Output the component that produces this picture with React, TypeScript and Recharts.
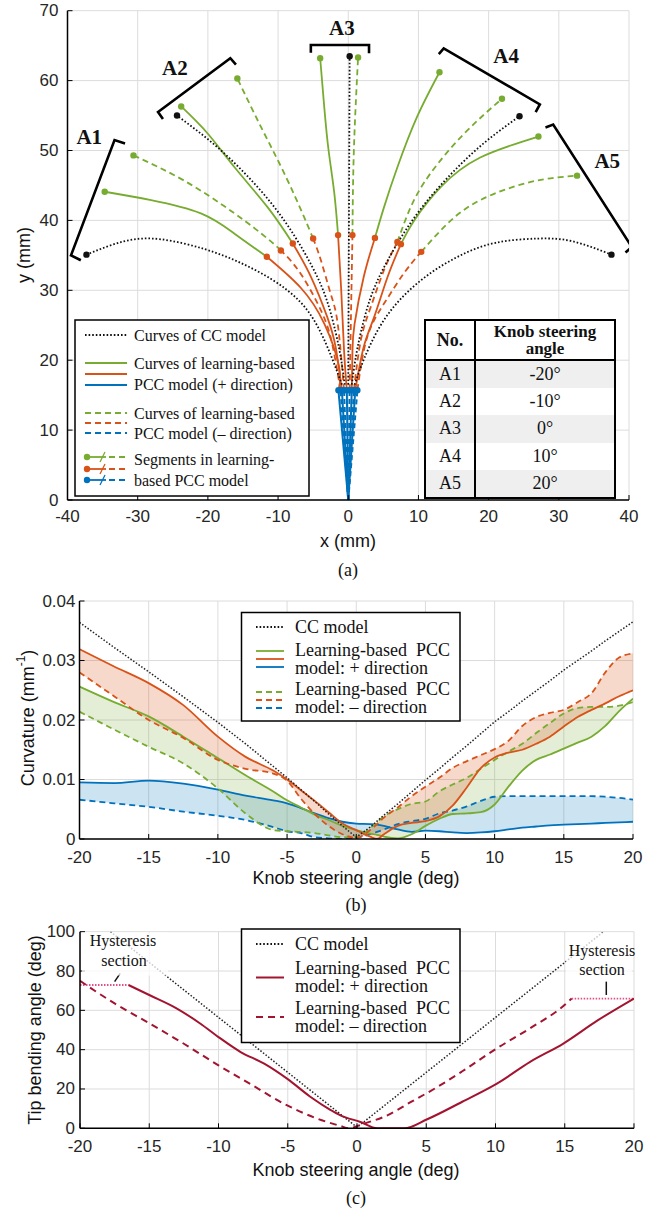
import React from 'react';
import { ComposedChart, Line, Area, XAxis, YAxis, CartesianGrid, ReferenceDot, ReferenceLine } from 'recharts';

const SANS = '"Liberation Sans", Arial, Helvetica, sans-serif';
const SERIF = '"Liberation Serif", "Times New Roman", Times, serif';
const GREEN = '#77ac30';
const ORANGE = '#d95319';
const BLUE = '#0072bd';
const RED = '#a2142f';
const PINK = '#e24f86';
const GRID = '#dcdcdc';
const TICK = '#262626';

type XY = [number, number];

// ---------- Panel (a): shapes in mm ----------
const aXTicks = [-40, -30, -20, -10, 0, 10, 20, 30, 40];
const aYTicks = [0, 10, 20, 30, 40, 50, 60, 70];

const ccA1: XY[] = [[-0.9, 16.5], [-2.4, 20.5], [-4.4, 24.9], [-7, 28.5], [-10.8, 31.5], [-15.5, 34], [-20.5, 35.9], [-26.7, 37.3], [-32, 37], [-37.3, 35.1]];
const ccA2: XY[] = [[-0.5, 16.5], [-1.0, 20], [-1.8, 24], [-3.2, 29], [-5.2, 33.5], [-7.8, 38], [-11, 42.5], [-15, 47], [-19.5, 51.2], [-24.4, 55]];
const ccA3: XY[] = [[0, 16.5], [0.1, 40], [0.2, 63.5]];
const ccA4: XY[] = [[0.5, 16.5], [1.0, 20], [1.8, 24], [3.2, 29], [5.2, 33.5], [7.8, 38], [11, 42.5], [15, 47], [19.5, 51.2], [24.4, 54.9]];
const ccA5: XY[] = [[0.9, 16.5], [2.3, 20.3], [4.5, 24.8], [7.5, 28.8], [11.5, 32.3], [16, 35], [21, 36.8], [27, 37.4], [32, 37], [37.5, 35.1]];

const blueTopY = 15.7;
const blueTipsPlus = [-1.4, -0.9, -0.2, 0.5, 1.0];
const blueTipsMinus = [-1.1, -0.6, 0.2, 0.8, 1.3];

const orA1p: XY[] = [[-1.4, 15.7], [-1.3, 19], [-3.4, 25.2], [-6.8, 30.4], [-11.6, 34.8]];
const orA1m: XY[] = [[-1.1, 15.7], [-2.2, 21.9], [-3.7, 26.7], [-6.8, 32.4], [-9.6, 35.7]];
const orA2p: XY[] = [[-0.9, 15.7], [-1.8, 21.9], [-3.0, 26.2], [-5.3, 31.9], [-7.9, 36.7]];
const orA2m: XY[] = [[-0.6, 15.7], [-1.5, 25.2], [-2.5, 29.5], [-3.9, 34.3], [-5.0, 37.4]];
const orA3p: XY[] = [[-0.2, 15.7], [-0.6, 21.4], [-1.0, 30], [-1.45, 37.9]];
const orA3m: XY[] = [[0.2, 15.7], [0.4, 27], [0.6, 37.9]];
const orA4p: XY[] = [[0.5, 15.7], [0.6, 21.4], [0.9, 25.2], [2.2, 31.9], [3.8, 37.5]];
const orA4m: XY[] = [[0.8, 15.7], [1.8, 22.9], [3.2, 27.6], [5.1, 32.9], [7.0, 36.9]];
const orA5p: XY[] = [[1.0, 15.7], [2.2, 21.9], [3.7, 26.2], [5.6, 31.9], [7.5, 36.6]];
const orA5m: XY[] = [[1.3, 15.7], [2.7, 23.3], [5.1, 28.1], [7.9, 32.4], [10.4, 35.5]];

const grA1p: XY[] = [[-11.6, 34.8], [-16.2, 38.1], [-21, 41], [-28.1, 42.9], [-34.7, 44.1]];
const grA1m: XY[] = [[-9.6, 35.7], [-11.5, 37.4], [-16.2, 41], [-23.4, 45.7], [-30.6, 49.3]];
const grA2p: XY[] = [[-7.9, 36.7], [-11.5, 41.9], [-16.2, 47.6], [-20, 52.4], [-23.8, 56.3]];
const grA2m: XY[] = [[-5.0, 37.4], [-6.3, 40.5], [-9.1, 46.7], [-12.4, 53.3], [-15.8, 60.3]];
const grA3p: XY[] = [[-1.45, 37.9], [-2.0, 44], [-2.8, 50], [-3.4, 56], [-4.0, 63.2]];
const grA3m: XY[] = [[0.6, 37.9], [0.8, 50], [1.4, 63.3]];
const grA4p: XY[] = [[3.8, 37.5], [5.1, 41.9], [7.0, 47.6], [9.8, 54.8], [13.0, 61.2]];
const grA4m: XY[] = [[7.0, 36.9], [8.9, 41.9], [11.7, 46.7], [16.5, 52.4], [21.9, 57.4]];
const grA5p: XY[] = [[7.5, 36.6], [9.4, 40], [13.2, 44.8], [18.8, 49], [27.1, 52.0]];
const grA5m: XY[] = [[10.4, 35.5], [14.1, 39.5], [18.8, 42.9], [26, 45.5], [32.6, 46.4]];

const brA1: XY[] = [[-38.1, 34.3], [-39.5, 35], [-33.3, 51.5], [-31.8, 51.0]];
const brA2: XY[] = [[-26.4, 54.5], [-27.1, 55.5], [-16.8, 63.2], [-16.0, 62.3]];
const brA3: XY[] = [[-5.33, 64.0], [-5.33, 65.1], [2.96, 65.1], [2.96, 63.9]];
const brA4: XY[] = [[12.9, 63.8], [13.6, 64.6], [27.3, 56.6], [26.7, 55.5]];
const brA5: XY[] = [[28.1, 53.3], [29.2, 53.7], [40.4, 36.2], [39.5, 35.4]];
const bracketLabels = ['A1', 'A2', 'A3', 'A4', 'A5'];
const bracketLabelPos: XY[] = [[-36.9, 52], [-24.7, 61.9], [-0.9, 67.6], [22.5, 63.6], [36.9, 48.6]];

const tableNo = ['A1', 'A2', 'A3', 'A4', 'A5'];
const tableAngle = ['-20°', '-10°', '0°', '10°', '20°'];

// ---------- Panel (b): curvature ----------
const bXTicks = [-20, -15, -10, -5, 0, 5, 10, 15, 20];
const bYTicks = [0, 0.01, 0.02, 0.03, 0.04];
const kB = [-20, -17.5, -15, -12.5, -10, -8, -6, -5, -4, -3, -2, -1, 0, 1, 1.5, 2, 3, 4, 5, 6, 7, 8, 9, 10, 11, 12, 13, 14, 15, 16, 17, 18, 19, 20];
const ccB = [0.0364, 0.0322, 0.0281, 0.0239, 0.0196, 0.0160, 0.0122, 0.0103, 0.0083, 0.0063, 0.0042, 0.0022, 0.0003, 0.0020, 0.0030, 0.0040, 0.0059, 0.0079, 0.0099, 0.0118, 0.0138, 0.0157, 0.0177, 0.0197, 0.0214, 0.0232, 0.0249, 0.0266, 0.0284, 0.0300, 0.0316, 0.0333, 0.0349, 0.0365];
const greenPlusB = [0.0256, 0.0230, 0.0206, 0.0172, 0.0136, 0.0107, 0.0080, 0.0065, 0.0053, 0.0041, 0.0032, 0.0022, 0.0015, 0.0009, 0.0007, 0.0004, 0.0001, 0.0008, 0.0022, 0.0034, 0.0042, 0.0043, 0.0045, 0.0058, 0.0088, 0.0115, 0.0133, 0.0142, 0.0152, 0.0162, 0.0172, 0.0190, 0.0215, 0.0236];
const orangePlusB = [0.0319, 0.0290, 0.0262, 0.0225, 0.0172, 0.0138, 0.0115, 0.0100, 0.0082, 0.0064, 0.0045, 0.0026, 0.0015, 0.0004, 0.0000, 0.0008, 0.0022, 0.0027, 0.0030, 0.0038, 0.0057, 0.0087, 0.0119, 0.0137, 0.0145, 0.0150, 0.0160, 0.0172, 0.0189, 0.0205, 0.0217, 0.0228, 0.0240, 0.0250];
const bluePlusB = [0.0095, 0.0094, 0.0098, 0.0093, 0.0083, 0.0073, 0.0065, 0.0060, 0.0052, 0.0043, 0.0035, 0.0029, 0.0026, 0.0025, 0.0024, 0.0022, 0.0016, 0.0012, 0.0014, 0.0013, 0.0011, 0.0010, 0.0011, 0.0013, 0.0016, 0.0019, 0.0021, 0.0023, 0.0024, 0.0025, 0.0026, 0.0027, 0.0028, 0.0029];
const greenMinusB = [0.0214, 0.0184, 0.0155, 0.0127, 0.0085, 0.0043, 0.0015, 0.0013, 0.0012, 0.0010, 0.0006, 0.0003, 0.0004, 0.0018, 0.0028, 0.0038, 0.0050, 0.0059, 0.0063, 0.0080, 0.0092, 0.0103, 0.0118, 0.0133, 0.0147, 0.0160, 0.0178, 0.0195, 0.0211, 0.0220, 0.0222, 0.0222, 0.0224, 0.0230];
const orangeMinusB = [0.0280, 0.0240, 0.0200, 0.0170, 0.0133, 0.0118, 0.0110, 0.0098, 0.0068, 0.0042, 0.0022, 0.0008, 0.0002, 0.0015, 0.0025, 0.0036, 0.0053, 0.0072, 0.0088, 0.0103, 0.0120, 0.0131, 0.0141, 0.0151, 0.0165, 0.0190, 0.0205, 0.0212, 0.0217, 0.0230, 0.0245, 0.0280, 0.0305, 0.0312];
const blueMinusB = [0.0066, 0.0060, 0.0054, 0.0046, 0.0039, 0.0032, 0.0020, 0.0013, 0.0010, 0.0003, 0.0001, 0.0000, 0.0002, 0.0008, 0.0012, 0.0016, 0.0025, 0.0030, 0.0034, 0.0043, 0.0048, 0.0055, 0.0064, 0.0071, 0.0072, 0.0072, 0.0072, 0.0072, 0.0072, 0.0072, 0.0072, 0.0071, 0.0069, 0.0066];

// ---------- Panel (c): tip bending angle ----------
const cXTicks = [-20, -15, -10, -5, 0, 5, 10, 15, 20];
const cYTicks = [0, 20, 40, 60, 80, 100];
const ccC: XY[] = [[-17.8, 100], [0, 0.5], [17.8, 100]];
const plusC: XY[] = [[-16.5, 72.9], [-15, 67.8], [-13, 60.9], [-11.3, 53.2], [-10, 46.4], [-8.4, 38.8], [-6.7, 32.9], [-5, 25], [-3.4, 16.2], [-1.9, 9.3], [-1.2, 6.6], [0.25, 3.2], [1.46, 0], [3.4, 0], [5.07, 4.6], [7.6, 13.5], [10.1, 22.7], [12.5, 33.8], [14.9, 43.1], [17.4, 55], [20, 66]];
const minusC: XY[] = [[-20, 75], [-17.5, 63.5], [-15, 53.4], [-12.5, 43], [-10, 32], [-7.7, 22.5], [-5, 11.5], [-2.9, 5], [-1.2, 1.2], [-0.6, 0], [0.5, 2.4], [1.94, 5.8], [3.9, 13.4], [5.8, 21], [7.6, 29], [10.1, 40.7], [12.5, 50.9], [14.9, 62.2], [15.5, 66]];
const hysLeftC: XY[] = [[-20, 72.9], [-16.5, 72.9]];
const hysRightC: XY[] = [[15.5, 66], [20, 66]];
const hysTickLeft: XY[] = [[-17.5, 74.6], [-17.1, 78.8]];
const hysTickRight: XY[] = [[18.0, 67.8], [18.0, 74.6]];

const toPts = (a: XY[]) => a.map(([x, y]) => ({ x, y }));

function XTick(props: any) {
  const { x, y, payload, off } = props;
  return (
    <g>
      <line x1={x} x2={x} y1={y} y2={y - 5} stroke="#000" strokeWidth={1} />
      <text x={x} y={y + off} textAnchor="middle" fontSize={17} fontFamily={SANS} fill={TICK}>{payload.value}</text>
    </g>
  );
}
function YTick(props: any) {
  const { x, y, payload, off, fmt } = props;
  return (
    <g>
      <line x1={x} x2={x + 5} y1={y} y2={y} stroke="#000" strokeWidth={1} />
      <text x={x - off} y={y} textAnchor="end" dominantBaseline="central" fontSize={17} fontFamily={SANS} fill={TICK}>{fmt ? fmt(payload.value) : payload.value}</text>
    </g>
  );
}

const endDot = (n: number, color: string, r = 3.2) => (p: any) => {
  if (p.index !== n - 1 || p.cx == null) return <g key={`e${p.index}`} />;
  return <circle key={`e${p.index}`} cx={p.cx} cy={p.cy} r={r} fill={color} stroke="none" />;
};

type Seg = { d: XY[]; c: string; dash?: string; dot?: boolean; w?: number };

const segsA: Seg[] = [
  ...blueTipsPlus.map((t) => ({ d: [[0, 0], [t, blueTopY]] as XY[], c: BLUE, dot: true, w: 2 })),
  ...blueTipsMinus.map((t) => ({ d: [[0, 0], [t, blueTopY]] as XY[], c: BLUE, dash: '5 3', dot: true, w: 2 })),
  ...[orA1p, orA2p, orA3p, orA4p, orA5p].map((d) => ({ d, c: ORANGE, dot: true })),
  ...[orA1m, orA2m, orA3m, orA4m, orA5m].map((d) => ({ d, c: ORANGE, dash: '6 4', dot: true })),
  ...[grA1p, grA2p, grA3p, grA4p, grA5p].map((d) => ({ d, c: GREEN, dot: true })),
  ...[grA1m, grA2m, grA3m, grA4m, grA5m].map((d) => ({ d, c: GREEN, dash: '6 4', dot: true })),
  ...[ccA1, ccA2, ccA3, ccA4, ccA5].map((d) => ({ d, c: '#111', dash: '1.6 2', dot: true })),
];
const bracketsA: XY[][] = [brA1, brA2, brA3, brA4, brA5];

const rowsB = kB.map((k, i) => ({
  k,
  cc: ccB[i],
  gp: greenPlusB[i],
  op: orangePlusB[i],
  bp: bluePlusB[i],
  gm: greenMinusB[i],
  om: orangeMinusB[i],
  bm: blueMinusB[i],
}));

const axisLine = { stroke: '#000', strokeWidth: 1.5 };

function PanelA() {
  return (
    <ComposedChart width={657} height={530} margin={{ top: 10.7, right: 28, bottom: 0, left: 0 }}>
      <CartesianGrid stroke={GRID} strokeWidth={1} />
      <XAxis type="number" dataKey="x" domain={[-40, 40]} ticks={aXTicks} interval={0} allowDataOverflow
        axisLine={axisLine} tickLine={false} tickSize={0} tickMargin={0} height={30}
        tick={(p: any) => <XTick {...p} off={22} />} />
      <YAxis type="number" dataKey="y" domain={[0, 70]} ticks={aYTicks} interval={0} allowDataOverflow
        axisLine={axisLine} tickLine={false} tickSize={0} tickMargin={0} width={67.5}
        tick={(p: any) => <YTick {...p} off={9} />} />
      {segsA.map((s, i) => (
        <Line key={`s${i}`} data={toPts(s.d)} dataKey="y" type="natural" stroke={s.c} strokeWidth={s.w ?? 1.8}
          strokeDasharray={s.dash} dot={s.dot ? endDot(s.d.length, s.c) : false} activeDot={false}
          isAnimationActive={false} />
      ))}
      {bracketsA.map((b, i) => (
        <Line key={`b${i}`} data={toPts(b)} dataKey="y" type="linear" stroke="#000" strokeWidth={2.6}
          strokeLinejoin="miter" dot={false} activeDot={false} isAnimationActive={false} />
      ))}
      {bracketLabels.map((t, i) => (
        <ReferenceDot key={t} x={bracketLabelPos[i][0]} y={bracketLabelPos[i][1]} r={0} fill="none" stroke="none"
          ifOverflow="visible"
          label={{ value: t, position: 'center', fill: '#111', fontSize: 21, fontWeight: 700, fontFamily: SERIF }} />
      ))}
    </ComposedChart>
  );
}

function PanelB() {
  return (
    <ComposedChart width={657} height={279} data={rowsB} margin={{ top: 11, right: 24, bottom: 0, left: 0 }}>
      <CartesianGrid stroke={GRID} strokeWidth={1} />
      <XAxis type="number" dataKey="k" domain={[-20, 20]} ticks={bXTicks} interval={0} allowDataOverflow
        axisLine={axisLine} tickLine={false} tickSize={0} tickMargin={0} height={30}
        tick={(p: any) => <XTick {...p} off={23.5} />} />
      <YAxis type="number" domain={[0, 0.04]} ticks={bYTicks} interval={0} allowDataOverflow
        axisLine={axisLine} tickLine={false} tickSize={0} tickMargin={0} width={79.5}
        tick={(p: any) => <YTick {...p} off={4} fmt={(v: number) => (v === 0 ? '0' : v.toFixed(2))} />} />
      <Area dataKey={(d: any) => [d.bp, d.bm]} type="monotone" fill={BLUE} fillOpacity={0.2} stroke="none" isAnimationActive={false} activeDot={false} />
      <Area dataKey={(d: any) => [d.gp, d.gm]} type="monotone" fill={GREEN} fillOpacity={0.2} stroke="none" isAnimationActive={false} activeDot={false} />
      <Area dataKey={(d: any) => [d.op, d.om]} type="monotone" fill={ORANGE} fillOpacity={0.22} stroke="none" isAnimationActive={false} activeDot={false} />
      <Line dataKey="bm" type="monotone" stroke={BLUE} strokeWidth={1.8} strokeDasharray="6 4" dot={false} activeDot={false} isAnimationActive={false} />
      <Line dataKey="bp" type="monotone" stroke={BLUE} strokeWidth={1.8} dot={false} activeDot={false} isAnimationActive={false} />
      <Line dataKey="gm" type="monotone" stroke={GREEN} strokeWidth={1.8} strokeDasharray="6 4" dot={false} activeDot={false} isAnimationActive={false} />
      <Line dataKey="gp" type="monotone" stroke={GREEN} strokeWidth={1.8} dot={false} activeDot={false} isAnimationActive={false} />
      <Line dataKey="om" type="monotone" stroke={ORANGE} strokeWidth={1.8} strokeDasharray="6 4" dot={false} activeDot={false} isAnimationActive={false} />
      <Line dataKey="op" type="monotone" stroke={ORANGE} strokeWidth={1.8} dot={false} activeDot={false} isAnimationActive={false} />
      <Line dataKey="cc" type="linear" stroke="#222" strokeWidth={1.5} strokeDasharray="1.5 1.8" dot={false} activeDot={false} isAnimationActive={false} />
    </ComposedChart>
  );
}

function PanelC() {
  return (
    <ComposedChart width={657} height={238.3} margin={{ top: 11.7, right: 23, bottom: 0, left: 0 }}>
      <CartesianGrid stroke={GRID} strokeWidth={1} />
      <XAxis type="number" dataKey="x" domain={[-20, 20]} ticks={cXTicks} interval={0} allowDataOverflow
        axisLine={axisLine} tickLine={false} tickSize={0} tickMargin={0} height={30}
        tick={(p: any) => <XTick {...p} off={24} />} />
      <YAxis type="number" dataKey="y" domain={[0, 100]} ticks={cYTicks} interval={0} allowDataOverflow
        axisLine={axisLine} tickLine={false} tickSize={0} tickMargin={0} width={80}
        tick={(p: any) => <YTick {...p} off={5} />} />
      <Line data={toPts(ccC)} dataKey="y" type="linear" stroke="#222" strokeWidth={1.5} strokeDasharray="1.5 1.8" dot={false} activeDot={false} isAnimationActive={false} />
      <Line data={toPts(hysLeftC)} dataKey="y" type="linear" stroke={PINK} strokeWidth={1.8} strokeDasharray="1.5 1.5" dot={false} activeDot={false} isAnimationActive={false} />
      <Line data={toPts(hysRightC)} dataKey="y" type="linear" stroke={PINK} strokeWidth={1.8} strokeDasharray="1.5 1.5" dot={false} activeDot={false} isAnimationActive={false} />
      <Line data={toPts(minusC)} dataKey="y" type="monotone" stroke={RED} strokeWidth={2} strokeDasharray="7 5" dot={false} activeDot={false} isAnimationActive={false} />
      <Line data={toPts(plusC)} dataKey="y" type="monotone" stroke={RED} strokeWidth={2} dot={false} activeDot={false} isAnimationActive={false} />
      <ReferenceLine segment={toPts(hysTickLeft)} stroke="#111" strokeWidth={1.5} ifOverflow="visible" />
      <ReferenceLine segment={toPts(hysTickRight)} stroke="#111" strokeWidth={1.5} ifOverflow="visible" />
    </ComposedChart>
  );
}

const txt = (x: number, y: number, s: string, size: number, fam: string, extra: any = {}) => (
  <text x={x} y={y} fontSize={size} fontFamily={fam} fill="#111" dominantBaseline="central" {...extra}>{s}</text>
);

function Overlay() {
  const legLine = (x1: number, x2: number, y: number, c: string, dash?: string, w = 1.8) => (
    <line x1={x1} x2={x2} y1={y} y2={y} stroke={c} strokeWidth={w} strokeDasharray={dash} />
  );
  const segMarker = (y: number, c: string) => (
    <g>
      <circle cx={87} cy={y} r={3.2} fill={c} />
      {legLine(87, 106, y, c)}
      <line x1={100} y1={y + 5} x2={105} y2={y - 5} stroke={c} strokeWidth={1.3} />
      {legLine(109, 127, y, c, '6 4')}
    </g>
  );
  return (
    <svg width={657} height={1213} style={{ position: 'absolute', left: 0, top: 0, pointerEvents: 'none' }}>
      {/* panel (a) titles */}
      {txt(24, 255, 'y (mm)', 18, SANS, { textAnchor: 'middle', transform: 'rotate(-90 24 255)' })}
      {txt(348, 541, 'x (mm)', 18, SANS, { textAnchor: 'middle' })}
      {txt(348, 570, '(a)', 18, SERIF, { textAnchor: 'middle' })}
      {/* panel (a) legend */}
      <rect x={75} y={320} width={234} height={176} fill="#fff" stroke="#000" strokeWidth={1.5} />
      {legLine(85, 127, 335, '#111', '1.6 2')}
      {txt(134, 335, 'Curves of CC model', 16, SERIF)}
      {legLine(85, 127, 363, GREEN)}
      {legLine(85, 127, 374, ORANGE)}
      {legLine(85, 127, 385, BLUE)}
      {txt(134, 363, 'Curves of learning-based', 16, SERIF)}
      {txt(134, 384, 'PCC model (+ direction)', 16, SERIF)}
      {legLine(85, 127, 413, GREEN, '6 4')}
      {legLine(85, 127, 423, ORANGE, '6 4')}
      {legLine(85, 127, 433, BLUE, '6 4')}
      {txt(134, 413, 'Curves of learning-based', 16, SERIF)}
      {txt(134, 433, 'PCC model (– direction)', 16, SERIF)}
      {segMarker(457, GREEN)}
      {segMarker(469, ORANGE)}
      {segMarker(480, BLUE)}
      {txt(134, 459, 'Segments in learning-', 16, SERIF)}
      {txt(134, 480, 'based PCC model', 16, SERIF)}

      {/* panel (b) */}
      <text x={28} y={718} fontSize={18} fontFamily={SANS} fill="#111" textAnchor="middle" dominantBaseline="central" transform="rotate(-90 28 718)">
        Curvature (mm<tspan dy={-7} fontSize={12}>-1</tspan><tspan dy={7}>)</tspan>
      </text>
      {txt(356, 878, 'Knob steering angle (deg)', 18, SANS, { textAnchor: 'middle' })}
      {txt(356, 905, '(b)', 18, SERIF, { textAnchor: 'middle' })}
      <rect x={241.5} y={612.5} width={218.5} height={108.5} fill="#fff" stroke="#000" strokeWidth={1.5} />
      {legLine(256, 284, 627, '#111', '1.6 2')}
      {txt(295, 627, 'CC model', 18, SERIF)}
      {legLine(256, 284, 651, GREEN)}
      {legLine(256, 284, 659, ORANGE)}
      {legLine(256, 284, 667, BLUE)}
      {txt(295, 650, 'Learning-based  PCC', 18, SERIF, { style: { whiteSpace: 'pre' } })}
      {txt(295, 668, 'model: + direction', 18, SERIF)}
      {legLine(256, 284, 692, GREEN, '6 4')}
      {legLine(256, 284, 700, ORANGE, '6 4')}
      {legLine(256, 284, 708, BLUE, '6 4')}
      {txt(295, 689, 'Learning-based  PCC', 18, SERIF, { style: { whiteSpace: 'pre' } })}
      {txt(295, 707, 'model: – direction', 18, SERIF)}

      {/* panel (c) */}
      {txt(35, 1030, 'Tip bending angle (deg)', 18, SANS, { textAnchor: 'middle', transform: 'rotate(-90 35 1030)' })}
      {txt(356, 1170, 'Knob steering angle (deg)', 18, SANS, { textAnchor: 'middle' })}
      {txt(356, 1198, '(c)', 18, SERIF, { textAnchor: 'middle' })}
      <rect x={82} y={932.5} width={86} height={43} fill="#fff" fillOpacity={0.75} />
      <rect x={566} y={932.5} width={66} height={45} fill="#fff" fillOpacity={0.75} />
      {txt(123, 940, 'Hysteresis', 16, SERIF, { textAnchor: 'middle' })}
      {txt(124, 960, 'section', 16, SERIF, { textAnchor: 'middle' })}
      {txt(602, 950, 'Hysteresis', 16, SERIF, { textAnchor: 'middle' })}
      {txt(602, 969, 'section', 16, SERIF, { textAnchor: 'middle' })}
      <rect x={241.5} y={929} width={218.5} height={113.5} fill="#fff" stroke="#000" strokeWidth={1.5} />
      {legLine(256, 284, 944, '#111', '1.6 2')}
      {txt(295, 944, 'CC model', 18, SERIF)}
      {legLine(256, 284, 977.5, RED, undefined, 2)}
      {txt(295, 968, 'Learning-based  PCC', 18, SERIF, { style: { whiteSpace: 'pre' } })}
      {txt(295, 986, 'model: + direction', 18, SERIF)}
      {legLine(256, 284, 1017, RED, '7 5', 2)}
      {txt(295, 1008, 'Learning-based  PCC', 18, SERIF, { style: { whiteSpace: 'pre' } })}
      {txt(295, 1026, 'model: – direction', 18, SERIF)}
    </svg>
  );
}

function Table() {
  const cell: React.CSSProperties = { textAlign: 'center', verticalAlign: 'middle', padding: 0, fontSize: 18, color: '#111' };
  return (
    <table style={{ position: 'absolute', left: 424, top: 319, width: 190, height: 178, borderCollapse: 'collapse', tableLayout: 'fixed', fontFamily: SERIF, background: '#fff', border: '2.5px solid #000' }}>
      <colgroup>
        <col style={{ width: 50 }} />
        <col style={{ width: 140 }} />
      </colgroup>
      <thead>
        <tr style={{ height: 40 }}>
          <th style={{ ...cell, fontWeight: 700, borderBottom: '2.5px solid #000', borderRight: '2.5px solid #000' }}>No.</th>
          <th style={{ ...cell, fontSize: 17, fontWeight: 700, lineHeight: '17px', borderBottom: '2.5px solid #000' }}>Knob steering<br />angle</th>
        </tr>
      </thead>
      <tbody>
        {tableNo.map((n, i) => (
          <tr key={n} style={{ height: 27.5, background: i % 2 === 0 ? '#efefef' : '#fff' }}>
            <td style={{ ...cell, borderRight: '2.5px solid #000' }}>{n}</td>
            <td style={cell}>{tableAngle[i]}</td>
          </tr>
        ))}
      </tbody>
    </table>
  );
}

export default function App() {
  return (
    <div style={{ position: 'absolute', left: 0, top: 0, width: 657, height: 1213, background: '#fff', overflow: 'hidden' }}>
      <div style={{ position: 'absolute', left: 0, top: 0 }}><PanelA /></div>
      <div style={{ position: 'absolute', left: 0, top: 590 }}><PanelB /></div>
      <div style={{ position: 'absolute', left: 0, top: 920 }}><PanelC /></div>
      <Overlay />
      <Table />
    </div>
  );
}
